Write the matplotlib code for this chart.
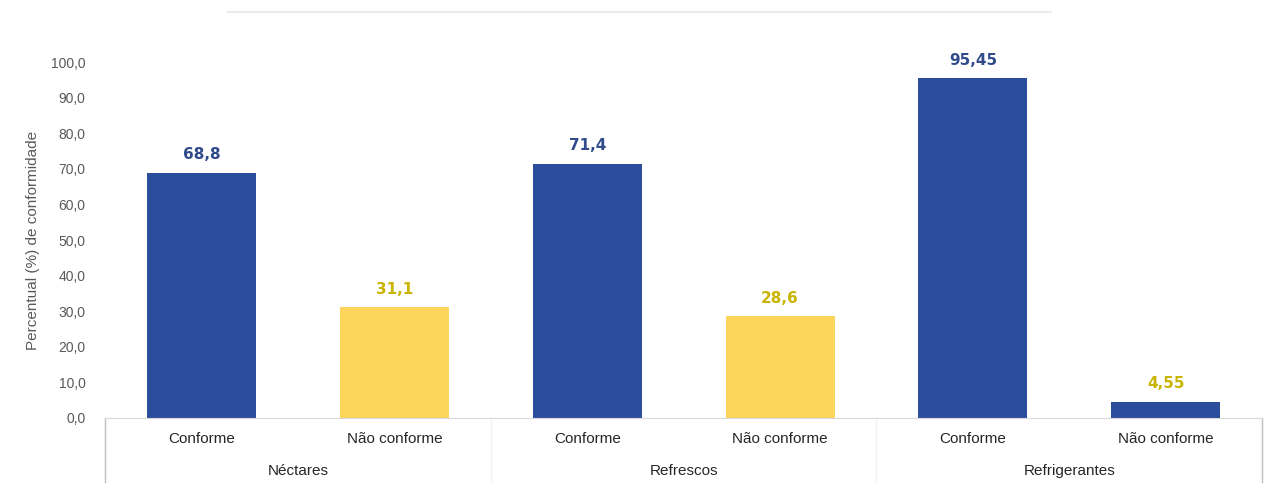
import numpy as np
import matplotlib
matplotlib.use("Agg")
import matplotlib.pyplot as plt

# conformity share by beverage type
groups = ["Néctares", "Refrescos", "Refrigerantes"]
status = ["Conforme", "Não conforme"]
conforme = [68.8, 71.4, 95.45]
nao_conforme = [31.1, 28.6, 4.55]
label_conforme = ["68,8", "71,4", "95,45"]
label_nao = ["31,1", "28,6", "4,55"]
yticks = [0, 10, 20, 30, 40, 50, 60, 70, 80, 90, 100]

BLUE = "#2b4d9c"
YELLOW = "#fdd55a"
BLUE_TXT = "#2f4b8c"
YELLOW_TXT = "#c9b400"
GRAY = "#595959"

plt.rcParams["font.family"] = ["Liberation Sans", "DejaVu Sans"]

fig = plt.figure(figsize=(12.66, 4.97), dpi=100, facecolor="white")
ax = fig.add_axes([0.083, 0.159, 0.914, 0.716])

values, bar_colors, lab_txt, lab_col = [], [], [], []
for i in range(len(groups)):
    values += [conforme[i], nao_conforme[i]]
    # the last "não conforme" bar is drawn in the same blue as the conforme bars
    bar_colors += [BLUE, BLUE if i == len(groups) - 1 else YELLOW]
    lab_txt += [label_conforme[i], label_nao[i]]
    lab_col += [BLUE_TXT, YELLOW_TXT]

x = np.arange(len(values))
ax.bar(x, values, width=0.565, color=bar_colors, zorder=2)
for xi, v, t, c in zip(x, values, lab_txt, lab_col):
    ax.text(xi, v + 3.0, t, ha="center", va="bottom", fontsize=11,
            fontweight="bold", color=c, family=["DejaVu Sans"])

ax.set_xlim(-0.5, len(values) - 0.5)
ax.set_ylim(0, 100)
ax.set_yticks(yticks)
ax.set_yticklabels([f"{t:.1f}".replace(".", ",") for t in yticks])
ax.tick_params(axis="y", length=0, labelsize=10, labelcolor=GRAY, pad=14)
ax.set_xticks(x)
ax.set_xticklabels(status * len(groups))
ax.tick_params(axis="x", length=0, labelsize=11, labelcolor="#262626", pad=10)
for s in ["top", "right", "left"]:
    ax.spines[s].set_visible(False)
ax.spines["bottom"].set_color("#d9d9d9")
ax.set_ylabel("Percentual (%) de conformidade", fontsize=11, color=GRAY, labelpad=8)

# group labels and separators of the two-level category axis
for gi, g in enumerate(groups):
    ax.text(2 * gi + 0.5, -0.15, g, transform=ax.get_xaxis_transform(),
            ha="center", va="center", fontsize=11, color="#262626")
for b in [-0.5, 5.5]:
    ax.plot([b, b], [0, -0.18], transform=ax.get_xaxis_transform(),
            color="#bfbfbf", lw=1.0, clip_on=False)
for b in [1.5, 3.5]:
    ax.plot([b, b], [0, -0.18], transform=ax.get_xaxis_transform(),
            color="#f4f4f4", lw=1.0, clip_on=False)

fig.add_artist(plt.Line2D([0.18, 0.83], [0.976, 0.976], color="#ececec", lw=1.5))

fig.savefig("out.png", dpi=100, facecolor="white")
